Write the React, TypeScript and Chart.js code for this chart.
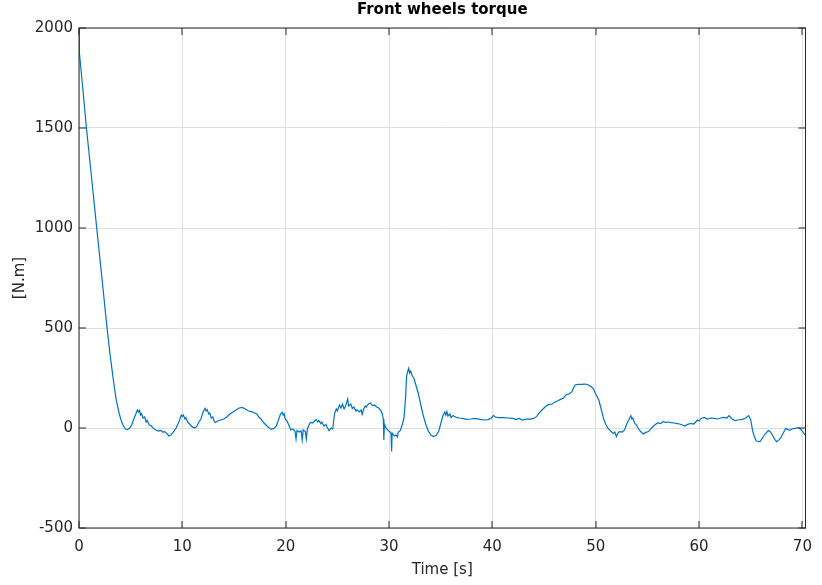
import React, { useEffect, useRef } from "react";
import { Chart, registerables } from "chart.js";

Chart.register(...registerables);

const timeS: number[] = [
  0, 0.03, 0.4, 0.74, 1.2, 1.7, 2.2, 2.7, 3.0, 3.3, 3.6, 3.9, 4.1, 4.3, 4.5, 4.7, 4.9, 5.1, 5.3, 5.5,
  5.65, 5.75, 5.85, 5.95, 6.05, 6.2, 6.35, 6.5, 6.6, 6.8, 7.0, 7.2, 7.45, 7.7, 7.9, 8.1, 8.3, 8.5, 8.7, 8.9,
  9.1, 9.4, 9.7, 9.9, 10.0, 10.1, 10.25, 10.35, 10.5, 10.7, 10.9, 11.2, 11.4, 11.6, 11.8, 12.0, 12.2, 12.3, 12.4, 12.55,
  12.65, 12.8, 12.95, 13.1, 13.2, 13.4, 13.7, 14.0, 14.3, 14.6, 14.9, 15.2, 15.5, 15.8, 16.1, 16.4, 16.7, 17.0, 17.2, 17.4,
  17.6, 17.9, 18.1, 18.3, 18.6, 18.9, 19.1, 19.3, 19.5, 19.65, 19.75, 19.85, 19.95, 20.1, 20.3, 20.5, 20.7, 20.9, 21.0, 21.1,
  21.3, 21.5, 21.6, 21.7, 21.9, 22.0, 22.1, 22.3, 22.4, 22.6, 22.8, 22.95, 23.1, 23.2, 23.4, 23.5, 23.7, 23.9, 24.0, 24.2,
  24.4, 24.55, 24.65, 24.75, 24.9, 25.0, 25.2, 25.35, 25.5, 25.65, 25.8, 26.0, 26.1, 26.3, 26.45, 26.6, 26.8, 26.9, 27.1, 27.3,
  27.4, 27.55, 27.7, 27.8, 28.0, 28.2, 28.4, 28.6, 28.8, 29.0, 29.2, 29.35, 29.45, 29.5, 29.55, 29.7, 29.9, 30.1, 30.2, 30.25,
  30.3, 30.5, 30.7, 30.8, 30.9, 31.1, 31.3, 31.45, 31.6, 31.7, 31.8, 31.9, 32.0, 32.1, 32.25, 32.4, 32.6, 32.85, 33.1, 33.3,
  33.55, 33.8, 34.05, 34.3, 34.55, 34.8, 35.0, 35.2, 35.4, 35.5, 35.6, 35.7, 35.9, 36.0, 36.2, 36.5, 36.8, 37.1, 37.5, 37.9,
  38.3, 38.8, 39.2, 39.6, 39.9, 40.1, 40.3, 40.6, 41.0, 41.5, 42.0, 42.3, 42.6, 42.9, 43.3, 43.7, 44.0, 44.3, 44.5, 44.8,
  45.2, 45.5, 45.8, 46.0, 46.3, 46.6, 46.9, 47.1, 47.4, 47.7, 47.85, 48.0, 48.3, 48.7, 49.0, 49.3, 49.6, 49.8, 50.0, 50.3,
  50.55, 50.75, 51.0, 51.2, 51.45, 51.7, 51.85, 52.0, 52.15, 52.3, 52.55, 52.8, 53.0, 53.2, 53.4, 53.5, 53.6, 53.75, 53.95, 54.1,
  54.3, 54.6, 54.85, 55.1, 55.4, 55.7, 56.0, 56.3, 56.5, 56.8, 57.0, 57.3, 57.6, 57.9, 58.1, 58.4, 58.6, 58.9, 59.2, 59.5,
  59.85, 60.0, 60.2, 60.5, 60.8, 61.1, 61.5, 61.8, 62.1, 62.4, 62.7, 62.9, 63.2, 63.5, 63.8, 64.2, 64.5, 64.8, 65.0, 65.2,
  65.4, 65.55, 65.9, 66.2, 66.4, 66.7, 66.9, 67.05, 67.3, 67.5, 67.7, 67.9, 68.2, 68.4, 68.6, 68.8, 69.0, 69.3, 69.6, 69.8,
  69.9, 70.05, 70.25,
];

const torqueNm: number[] = [
  2000, 1880, 1680, 1490, 1260, 1007, 760, 507, 370, 250, 140, 70, 35, 10, -5, -8, 0, 15, 45, 70,
  90, 80, 88, 65, 72, 50, 55, 30, 38, 15, 10, -2, -10, -15, -12, -20, -18, -28, -40, -35,
  -22, 0, 35, 65, 58, 65, 45, 52, 30, 20, 8, 0, 8, 30, 45, 80, 98, 85, 92, 70,
  75, 50, 55, 32, 28, 35, 40, 45, 55, 70, 80, 90, 100, 103, 95, 85, 82, 75, 70, 55,
  45, 25, 15, 5, -7, 0, 10, 40, 70, 78, 65, 72, 45, 38, 15, -10, -5, -15, -55, -12,
  -20, -15, -60, -10, -18, -55, -5, 20, 28, 25, 35, 42, 30, 38, 22, 30, 10, 18, 5, -13,
  0, -5, 40, 75, 95, 85, 115, 100, 120, 95, 110, 145, 110, 120, 98, 105, 85, 92, 80, 90,
  68, 95, 110, 105, 120, 125, 112, 115, 105, 100, 88, 70, 45, -60, 20, 0, -12, -20, -30, -118,
  -25, -40, -35, -45, -20, -12, 20, 50, 150, 260, 280, 298, 275, 285, 260, 250, 215, 170, 110, 65,
  20, -15, -35, -43, -38, -18, 20, 60, 80, 65, 82, 60, 70, 52, 62, 53, 50, 48, 43, 45,
  48, 43, 40, 42, 50, 62, 55, 52, 52, 50, 48, 42, 48, 40, 45, 44, 48, 58, 73, 90,
  110, 118, 120, 128, 135, 143, 150, 165, 170, 182, 200, 215, 218, 218, 220, 215, 205, 195, 170, 140,
  90, 48, 15, -2, -15, -27, -20, -43, -25, -18, -20, -10, 20, 40, 62, 45, 50, 25, 15, 0,
  -15, -30, -22, -18, 0, 15, 25, 22, 32, 28, 30, 27, 25, 22, 20, 15, 10, 18, 23, 20,
  40, 35, 48, 53, 45, 50, 48, 45, 50, 53, 50, 62, 45, 37, 40, 43, 50, 62, 40, -18,
  -50, -65, -68, -45, -30, -13, -20, -30, -55, -68, -62, -50, -20, -2, -8, -10, -5, -2, 2, -5,
  -10, -20, -35,
];

const xTickValues: number[] = [0, 10, 20, 30, 40, 50, 60, 70];
const yTickValues: number[] = [-500, 0, 500, 1000, 1500, 2000];

const chartTitle = "Front wheels torque";
const xLabel = "Time [s]";
const yLabel = "[N.m]";

const FONT = "'DejaVu Sans', 'Liberation Sans', Arial, sans-serif";
const TEXT = "#262626";

const matlabAxes = {
  id: "matlabAxes",
  afterDatasetsDraw(chart: any) {
    const { ctx, chartArea: a, scales } = chart;
    const tl = 7;
    ctx.save();
    ctx.strokeStyle = "#262626";
    ctx.lineWidth = 1;
    ctx.beginPath();
    xTickValues.forEach((v) => {
      const px = Math.round(scales.x.getPixelForValue(v));
      ctx.moveTo(px, a.bottom);
      ctx.lineTo(px, a.bottom - tl);
      ctx.moveTo(px, a.top);
      ctx.lineTo(px, a.top + tl);
    });
    yTickValues.forEach((v) => {
      const py = Math.round(scales.y.getPixelForValue(v));
      ctx.moveTo(a.left, py);
      ctx.lineTo(a.left + tl, py);
      ctx.moveTo(a.right, py);
      ctx.lineTo(a.right - tl, py);
    });
    ctx.stroke();
    ctx.strokeRect(a.left, a.top, a.right - a.left, a.bottom - a.top);
    ctx.restore();
  },
};

export default function App() {
  const canvasRef = useRef<HTMLCanvasElement | null>(null);

  useEffect(() => {
    if (!canvasRef.current) return;
    const points = timeS.map((t, i) => ({ x: t, y: torqueNm[i] }));
    const chart = new Chart(canvasRef.current, {
      type: "line",
      data: {
        datasets: [
          {
            data: points,
            borderColor: "#0072BD",
            borderWidth: 1.2,
            pointRadius: 0,
            tension: 0,
            fill: false,
          },
        ],
      },
      options: {
        responsive: false,
        animation: false,
        layout: { padding: { left: 0, right: 10, top: 0, bottom: 0 } },
        plugins: {
          legend: { display: false },
          tooltip: { enabled: false },
          title: {
            display: true,
            fullSize: false,
            text: chartTitle,
            color: "#000000",
            font: { family: FONT, size: 15, weight: "bold", lineHeight: 1.2 },
            padding: { top: 1, bottom: 9 },
          },
        },
        scales: {
          x: {
            type: "linear",
            min: 0,
            max: 70.3,
            afterFit: (s: any) => {
              s.height = 57;
            },
            afterBuildTicks: (s: any) => {
              s.ticks = xTickValues.map((v) => ({ value: v }));
            },
            ticks: {
              color: TEXT,
              font: { family: FONT, size: 15 },
              padding: 10,
              maxRotation: 0,
              callback: (v: any) => String(v),
            },
            grid: { color: "#dfdfdf", drawTicks: false, lineWidth: 1 },
            border: { display: false },
            title: {
              display: true,
              text: xLabel,
              color: TEXT,
              font: { family: FONT, size: 15, lineHeight: 1.2 },
              padding: { top: 0, bottom: 6 },
            },
          },
          y: {
            type: "linear",
            min: -500,
            max: 2000,
            afterFit: (s: any) => {
              s.width = 79;
            },
            afterBuildTicks: (s: any) => {
              s.ticks = yTickValues.map((v) => ({ value: v }));
            },
            ticks: {
              color: TEXT,
              font: { family: FONT, size: 15 },
              padding: 6,
              callback: (v: any) => String(v),
            },
            grid: { color: "#dfdfdf", drawTicks: false, lineWidth: 1 },
            border: { display: false },
            title: {
              display: true,
              text: yLabel,
              color: TEXT,
              font: { family: FONT, size: 15, lineHeight: 1.2 },
              padding: { top: 11, bottom: 0 },
            },
          },
        },
      },
      plugins: [matlabAxes],
    });
    return () => chart.destroy();
  }, []);

  return (
    <div
      style={{
        position: "absolute",
        left: 0,
        top: 0,
        width: 822,
        height: 585,
        background: "#ffffff",
      }}
    >
      <canvas ref={canvasRef} width={822} height={585} style={{ display: "block" }} />
    </div>
  );
}
